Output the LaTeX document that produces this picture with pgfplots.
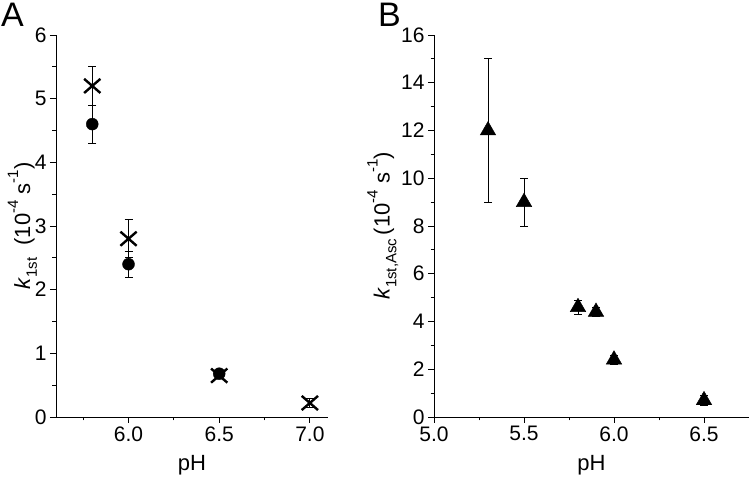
\documentclass[border=0pt]{standalone}
\usepackage{fontspec}
\setmainfont{Liberation Sans}
\usepackage{pgfplots}
\pgfplotsset{compat=1.18}

\pgfplotsset{
  panel/.style={
    scale only axis,
    height=382pt,
    axis x line*=bottom,
    axis y line*=left,
    axis line style={line width=0.9pt},
    tick align=outside,
    major tick length=6pt,
    minor tick length=3.5pt,
    every tick/.style={black, line width=0.9pt},
    ymin=0,
    tick label style={font=\fontsize{21}{24}\selectfont},
    label style={font=\fontsize{22}{25}\selectfont},
    /pgf/number format/assume math mode=true,
    xticklabel style={/pgf/number format/.cd, fixed, fixed zerofill, precision=1},
    yticklabel style={/pgf/number format/.cd, fixed},
    xlabel={pH},
    xlabel style={yshift=-7pt},
  },
  ebars/.style={
    error bars/.cd, y dir=both, y explicit,
    error bar style={line width=0.8pt, black},
    error mark options={rotate=90, line width=0.8pt, mark size=4pt, black},
  },
}
\newcommand{\sub}[1]{\raisebox{-0.3em}{\fontsize{15}{15}\selectfont #1}}
\newcommand{\sups}[1]{\raisebox{0.55em}{\fontsize{15}{15}\selectfont #1}}

\begin{document}
\begin{tikzpicture}
\useasboundingbox (0,0) rectangle (752pt,478pt);

\begin{axis}[panel,
  at={(56pt,61pt)}, anchor=south west,
  width=272pt,
  xmin=5.6, xmax=7.1,
  ymax=6,
  xtick={6.0,6.5,7.0},
  minor xtick={5.75,6.25,6.75},
  ytick={0,1,...,6},
  minor y tick num=1,
  ylabel={\textit{k}\sub{1st}\ \ (10\sups{-4} s\sups{-1})},
  ylabel style={yshift=-9pt},
]
% filled circles
\addplot[only marks, mark=*, mark size=6pt, black, ebars] coordinates {
  (5.8,4.6) +- (0,0.3)
  (6.0,2.4) +- (0,0.2)
  (6.5,0.68) +- (0,0.05)
};
% crosses
\addplot[only marks, mark=x, mark size=10pt, black, mark options={line width=2.4pt, xscale=1.15}, ebars] coordinates {
  (5.8,5.2) +- (0,0.3)
  (6.0,2.8) +- (0,0.3)
  (6.5,0.65) +- (0,0.05)
  (7.0,0.22) +- (0,0.07)
};
\end{axis}

\begin{axis}[panel,
  at={(434pt,61pt)}, anchor=south west,
  width=315pt,
  xmin=5.0, xmax=6.75,
  ymax=16,
  xtick={5.0,5.5,6.0,6.5},
  minor xtick={5.25,5.75,6.25},
  ytick={0,2,...,16},
  minor y tick num=1,
  ylabel={\textit{k}\sub{1st,Asc}\,(10\sups{-4} s\sups{-1})},
  ylabel style={yshift=-4pt},
]
\addplot[only marks, mark=triangle*, mark size=9pt, black, ebars] coordinates {
  (5.3,12.0) +- (0,3.0)
  (5.5,9.0) +- (0,1.0)
  (5.8,4.6) +- (0,0.3)
  (5.9,4.4) +- (0,0.2)
  (6.0,2.4) +- (0,0.2)
  (6.5,0.7) +- (0,0.2)
};
\end{axis}

\node[anchor=north west, inner sep=0pt, font=\fontsize{34}{34}\selectfont] at (1pt,475pt) {A};
\node[anchor=north west, inner sep=0pt, font=\fontsize{34}{34}\selectfont] at (378pt,475pt) {B};
\end{tikzpicture}
\end{document}
